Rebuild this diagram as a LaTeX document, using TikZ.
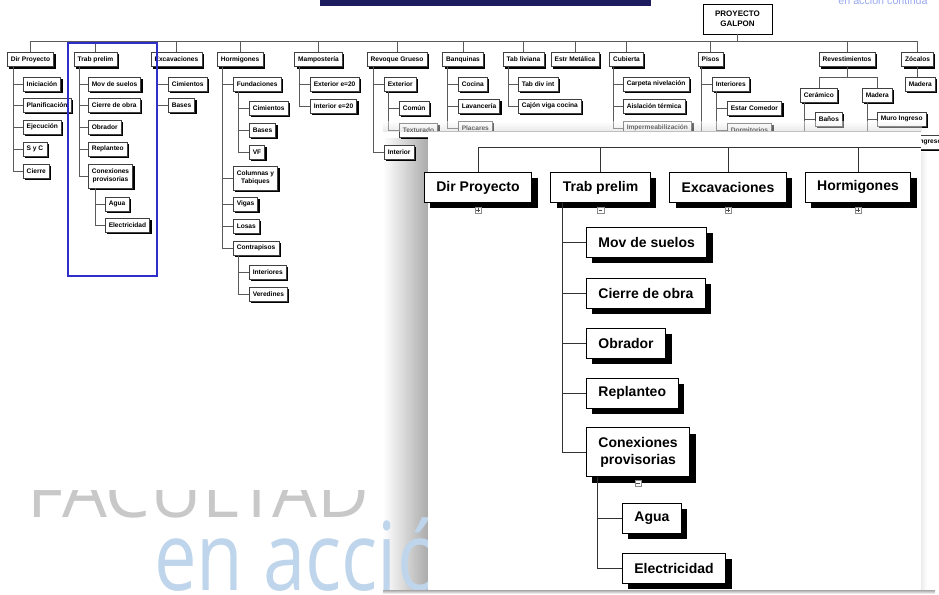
\documentclass[tikz,border=0pt]{standalone}
\usepackage{fontspec}
\setmainfont{Liberation Sans}
\newfontfamily\markfont{Open Sans}
\usepackage{graphicx}
\usepackage{xcolor}
\definecolor{cLine}{HTML}{5A5A5A}
\definecolor{cFrame}{HTML}{2E2EC8}
\definecolor{cBar}{HTML}{1C1C5E}
\definecolor{cMark}{HTML}{C8C8C8}
\definecolor{cMarkBlue}{HTML}{BFD5EB}
\definecolor{cShade}{HTML}{ABABAB}
\usepackage{tikz}
\usetikzlibrary{positioning,shadows}
\tikzset{
  box-root/.style={draw=black,line width=.8pt,fill=white,align=center,
    minimum width=69pt,minimum height=30pt,inner sep=0pt,
    font=\bfseries\fontsize{8}{10}\selectfont},
  box-small/.style={draw=black!75,line width=.5pt,fill=white,anchor=west,
    inner xsep=3.5pt,inner ysep=0pt,minimum height=14pt,align=center,
    font=\bfseries\fontsize{6.6}{7.6}\selectfont,
    drop shadow={fill=black,opacity=1,shadow xshift=2pt,shadow yshift=-2pt}},
  box-top/.style={box-small,anchor=center},
  box-big/.style={draw=black,line width=.8pt,fill=white,anchor=west,
    inner xsep=12pt,inner ysep=0pt,minimum height=30pt,align=center,
    font=\bfseries\fontsize{14}{17}\selectfont,
    drop shadow={fill=black,opacity=1,shadow xshift=6pt,shadow yshift=-6pt}},
  box-big-top/.style={box-big,anchor=north},
  btn/.style={draw=black!45,fill=white,line width=.4pt,minimum size=6.5pt,
    inner sep=0pt},
  % botones de expandir / contraer
  btn-minus/.style={btn,path picture={
    \draw[black!70,line width=.6pt]
      ([xshift=1.4pt]path picture bounding box.west) --
      ([xshift=-1.4pt]path picture bounding box.east);}},
  btn-plus/.style={btn,path picture={
    \draw[black!70,line width=.6pt]
      ([xshift=1.4pt]path picture bounding box.west) --
      ([xshift=-1.4pt]path picture bounding box.east)
      ([yshift=-1.4pt]path picture bounding box.north) --
      ([yshift=1.4pt]path picture bounding box.south);}},
  link-small/.style={draw=cLine,line width=.6pt},
  link-big/.style={draw=black!80,line width=1pt},
  frame-blue/.style={draw=cFrame,line width=2.5pt},
  % marca de agua de la diapositiva
  mark-gray/.style={anchor=base west,inner sep=0pt,text=cMark,
    font=\markfont\fontsize{71}{71}\selectfont},
  mark-blue/.style={anchor=base west,inner sep=0pt,text=cMarkBlue,
    font=\markfont\fontsize{95}{95}\selectfont},
  mark-top/.style={anchor=base,inner sep=0pt,text=cMarkBlue!80!blue,
    font=\fontsize{10.7}{11}\selectfont},
}

\begin{document}
\begin{tikzpicture}[x=1pt,y=-1pt]
  \useasboundingbox (0,0) rectangle (939,594);
  \clip (0,0) rectangle (939,594);

  \shade[left color=white,right color=cShade] (383,138) rectangle (428,594);
  \begin{scope}
    \clip (0,490) rectangle (939,594);
    \node[mark-gray] (markA) at (27,517) {FACULTAD};
  \end{scope}
  \node[mark-blue] (markB) at (154,590) {\scalebox{.8}[1]{en acción}};
  \node[mark-top]  (markC) at (883,5)   {en acción continua};
  \fill[cBar] (320,0) rectangle (651,6);

  % arbol completo (chico)
  \coordinate (bus) at (0,41);
  \node[box-root] (root) at (737.5,19) {PROYECTO\\GALPON};
  \node[box-top] (dp)  at (30.5,59.5)  {Dir Proyecto};
  \node[box-top] (tp)  at (95.5,59.5)  {Trab prelim};
  \node[box-top] (exc) at (176.5,59.5) {Excavaciones};
  \node[box-top] (hor) at (240,59.5)   {Hormigones};
  \node[box-top] (mam) at (318.5,59.5) {Mampostería};
  \node[box-top] (rev) at (397,59.5)   {Revoque Grueso};
  \node[box-top] (ban) at (463,59.5)   {Banquinas};
  \node[box-top] (tab) at (523.5,59.5) {Tab liviana};
  \node[box-top] (est) at (575,59.5)   {Estr Metálica};
  \node[box-top] (cub) at (626.5,59.5) {Cubierta};
  \node[box-top] (pis) at (710.5,59.5) {Pisos};
  \node[box-top] (rvs) at (847,59.5)   {Revestimientos};
  \node[box-top] (zoc) at (917.5,59.5) {Zócalos};

  \node[box-small] (ini) at (23,84)  {Iniciación};
  \node[box-small] (pla) at (23,105) {Planificación};
  \node[box-small] (eje) at (23,127) {Ejecución};
  \node[box-small] (syc) at (23,149) {S y C};
  \node[box-small] (cie) at (23,171) {Cierre};

  \node[box-small] (mov) at (88,84)  {Mov de suelos};
  \node[box-small] (cdo) at (88,105) {Cierre de obra};
  \node[box-small] (obr) at (88,127) {Obrador};
  \node[box-small] (rep) at (88,149) {Replanteo};
  \node[box-small,minimum height=24pt] (con) at (88,176) {Conexiones\\provisorias};
  \node[box-small] (agu) at (105,204) {Agua};
  \node[box-small] (ele) at (105,225) {Electricidad};

  \node[box-small] (cim) at (168,84)  {Cimientos};
  \node[box-small] (bas) at (168,105) {Bases};

  \node[box-small] (fun)  at (233,84)  {Fundaciones};
  \node[box-small] (fcim) at (249,108) {Cimientos};
  \node[box-small] (fbas) at (249,130) {Bases};
  \node[box-small] (fvf)  at (249,152) {VF};
  \node[box-small,minimum height=24pt] (col) at (233,178) {Columnas y\\Tabiques};
  \node[box-small] (vig)  at (233,204) {Vigas};
  \node[box-small] (los)  at (233,226) {Losas};
  \node[box-small] (ctp)  at (233,248) {Contrapisos};
  \node[box-small] (cint) at (249,272) {Interiores};
  \node[box-small] (cver) at (249,294) {Veredines};

  \node[box-small] (ext20) at (310,84)  {Exterior e=20};
  \node[box-small] (int20) at (310,106) {Interior e=20};

  \node[box-small] (rext) at (384,84)  {Exterior};
  \node[box-small] (com)  at (399,108) {Común};
  \node[box-small] (tex)  at (399,130) {Texturado};
  \node[box-small] (rint) at (384,152) {Interior};

  \node[box-small] (coc) at (458,84)  {Cocina};
  \node[box-small] (lav) at (458,106) {Lavancería};
  \node[box-small] (plc) at (458,128) {Placares};

  \node[box-small] (tdi) at (518,84)  {Tab div int};
  \node[box-small] (cvc) at (518,106) {Cajón viga cocina};

  \node[box-small] (car) at (623,84)  {Carpeta nivelación};
  \node[box-small] (ais) at (623,106) {Aislación térmica};
  \node[box-small] (imp) at (623,128) {Impermeabilización};

  \node[box-small] (pint) at (712,84)  {Interiores};
  \node[box-small] (esc)  at (727,108) {Estar Comedor};
  \node[box-small] (dor)  at (727,130) {Dormitorios};

  \node[box-small] (cer)  at (800,95)  {Cerámico};
  \node[box-small] (bno)  at (815,119) {Baños};
  \node[box-small] (mad)  at (862,95)  {Madera};
  \node[box-small] (mur)  at (877,119) {Muro Ingreso};
  \node[box-small] (zmad) at (905,84)  {Madera};
  \node[box-small] (zmur) at (896,142) {Muro Ingreso};

  \coordinate (rfork) at (0,77);
  \coordinate (cutend) at (0,140);

  \draw[link-small] (root.south) -- (root.south |- bus);
  \draw[link-small] (dp.north |- bus) -- (zoc.north |- bus);
  \draw[link-small] (dp.north)  -- (dp.north |- bus);
  \draw[link-small] (tp.north)  -- (tp.north |- bus);
  \draw[link-small] (exc.north) -- (exc.north |- bus);
  \draw[link-small] (hor.north) -- (hor.north |- bus);
  \draw[link-small] (mam.north) -- (mam.north |- bus);
  \draw[link-small] (rev.north) -- (rev.north |- bus);
  \draw[link-small] (ban.north) -- (ban.north |- bus);
  \draw[link-small] (tab.north) -- (tab.north |- bus);
  \draw[link-small] (est.north) -- (est.north |- bus);
  \draw[link-small] (cub.north) -- (cub.north |- bus);
  \draw[link-small] (pis.north) -- (pis.north |- bus);
  \draw[link-small] (rvs.north) -- (rvs.north |- bus);
  \draw[link-small] (zoc.north) -- (zoc.north |- bus);

  \draw[link-small] ([xshift=6pt]dp.south west) |- (ini.west);
  \draw[link-small] ([xshift=6pt]dp.south west) |- (pla.west);
  \draw[link-small] ([xshift=6pt]dp.south west) |- (eje.west);
  \draw[link-small] ([xshift=6pt]dp.south west) |- (syc.west);
  \draw[link-small] ([xshift=6pt]dp.south west) |- (cie.west);

  \draw[link-small] ([xshift=5pt]tp.south west) |- (mov.west);
  \draw[link-small] ([xshift=5pt]tp.south west) |- (cdo.west);
  \draw[link-small] ([xshift=5pt]tp.south west) |- (obr.west);
  \draw[link-small] ([xshift=5pt]tp.south west) |- (rep.west);
  \draw[link-small] ([xshift=5pt]tp.south west) |- (con.west);
  \draw[link-small] ([xshift=7pt]con.south west) |- (agu.west);
  \draw[link-small] ([xshift=7pt]con.south west) |- (ele.west);

  \draw[link-small] ([xshift=6pt]exc.south west) |- (cim.west);
  \draw[link-small] ([xshift=6pt]exc.south west) |- (bas.west);

  \draw[link-small] ([xshift=5pt]hor.south west) |- (fun.west);
  \draw[link-small] ([xshift=5pt]hor.south west) |- (col.west);
  \draw[link-small] ([xshift=5pt]hor.south west) |- (vig.west);
  \draw[link-small] ([xshift=5pt]hor.south west) |- (los.west);
  \draw[link-small] ([xshift=5pt]hor.south west) |- (ctp.west);
  \draw[link-small] ([xshift=5pt]fun.south west) |- (fcim.west);
  \draw[link-small] ([xshift=5pt]fun.south west) |- (fbas.west);
  \draw[link-small] ([xshift=5pt]fun.south west) |- (fvf.west);
  \draw[link-small] ([xshift=5pt]ctp.south west) |- (cint.west);
  \draw[link-small] ([xshift=5pt]ctp.south west) |- (cver.west);

  \draw[link-small] ([xshift=5pt]mam.south west) |- (ext20.west);
  \draw[link-small] ([xshift=5pt]mam.south west) |- (int20.west);

  \draw[link-small] ([xshift=6pt]rev.south west) |- (rext.west);
  \draw[link-small] ([xshift=6pt]rev.south west) |- (rint.west);
  \draw[link-small] ([xshift=4pt]rext.south west) |- (com.west);
  \draw[link-small] ([xshift=4pt]rext.south west) |- (tex.west);

  \draw[link-small] ([xshift=5pt]ban.south west) |- (coc.west);
  \draw[link-small] ([xshift=5pt]ban.south west) |- (lav.west);
  \draw[link-small] ([xshift=5pt]ban.south west) |- (plc.west);

  \draw[link-small] ([xshift=5pt]tab.south west) |- (tdi.west);
  \draw[link-small] ([xshift=5pt]tab.south west) |- (cvc.west);

  \draw[link-small] ([xshift=4pt]cub.south west) |- (car.west);
  \draw[link-small] ([xshift=4pt]cub.south west) |- (ais.west);
  \draw[link-small] ([xshift=4pt]cub.south west) |- (imp.west);

  \draw[link-small] ([xshift=3pt]pis.south west) |- (pint.west);
  \draw[link-small] ([xshift=3pt]pis.south west) -- ([xshift=3pt]pis.south west |- cutend);
  \draw[link-small] ([xshift=4pt]pint.south west) |- (esc.west);
  \draw[link-small] ([xshift=4pt]pint.south west) |- (dor.west);

  \draw[link-small] (rvs.south) -- (rvs.south |- rfork);
  \draw[link-small] (cer.north) -- (cer.north |- rfork) -- (mad.north |- rfork) -- (mad.north);
  \draw[link-small] ([xshift=4pt]cer.south west) |- (bno.west);
  \draw[link-small] ([xshift=4pt]cer.south west) -- ([xshift=4pt]cer.south west |- cutend);
  \draw[link-small] ([xshift=5pt]mad.south west) |- (mur.west);
  \draw[link-small] ([xshift=5pt]mad.south west) -- ([xshift=5pt]mad.south west |- cutend);
  \draw[link-small] (zoc.south) -- (zmad.north -| zoc.south);

  \draw[frame-blue] (68,43) rectangle (157,276);

  % ventana ampliada
  \shade[top color=white,bottom color=black!18,opacity=.45] (383,121) rectangle (922,131);
  \fill[white] (428,131) rectangle (921,590);
  \draw[black!25,line width=1pt] (428,131) -- (921,131);
  \shade[left color=black!12,right color=white,opacity=.6] (921,152) rectangle (927,594);
  \shade[top color=black!35,bottom color=white] (383,590) rectangle (935,594);

  \coordinate (bigbus) at (0,147);
  \coordinate (bigend) at (921,147);
  \node[box-big-top] (dpB)  at (478,172)   {Dir Proyecto};
  \node[box-big-top] (tpB)  at (600.5,172) {Trab prelim};
  \node[box-big-top] (excB) at (728,172)   {Excavaciones};
  \node[box-big-top] (horB) at (858,172)   {Hormigones};
  \node[btn-plus,below=4pt of dpB]   (dpBtn)  {};
  \node[btn-minus,below=4pt of tpB]  (tpBtn)  {};
  \node[btn-plus,below=4pt of excB]  (excBtn) {};
  \node[btn-plus,below=4pt of horB]  (horBtn) {};

  \node[box-big] (movB) at (586,242) {Mov de suelos};
  \node[box-big] (cdoB) at (586,293) {Cierre de obra};
  \node[box-big] (obrB) at (586,343) {Obrador};
  \node[box-big] (repB) at (586,393) {Replanteo};
  \node[box-big,minimum height=49pt] (conB) at (586,452) {Conexiones\\provisorias};
  \node[btn-minus,below=3pt of conB] (conBtn) {};
  \node[box-big] (aguB) at (622,518) {Agua};
  \node[box-big] (eleB) at (622,568) {Electricidad};

  \draw[link-big] (dpB.north |- bigbus) -- (bigend);
  \draw[link-big] (dpB.north)  -- (dpB.north |- bigbus);
  \draw[link-big] (tpB.north)  -- (tpB.north |- bigbus);
  \draw[link-big] (excB.north) -- (excB.north |- bigbus);
  \draw[link-big] (horB.north) -- (horB.north |- bigbus);
  \draw[link-big] ([xshift=12pt]tpB.south west) |- (movB.west);
  \draw[link-big] ([xshift=12pt]tpB.south west) |- (cdoB.west);
  \draw[link-big] ([xshift=12pt]tpB.south west) |- (obrB.west);
  \draw[link-big] ([xshift=12pt]tpB.south west) |- (repB.west);
  \draw[link-big] ([xshift=12pt]tpB.south west) |- (conB.west);
  \draw[link-big] ([xshift=11pt]conB.south west) |- (aguB.west);
  \draw[link-big] ([xshift=11pt]conB.south west) |- (eleB.west);
\end{tikzpicture}
\end{document}
